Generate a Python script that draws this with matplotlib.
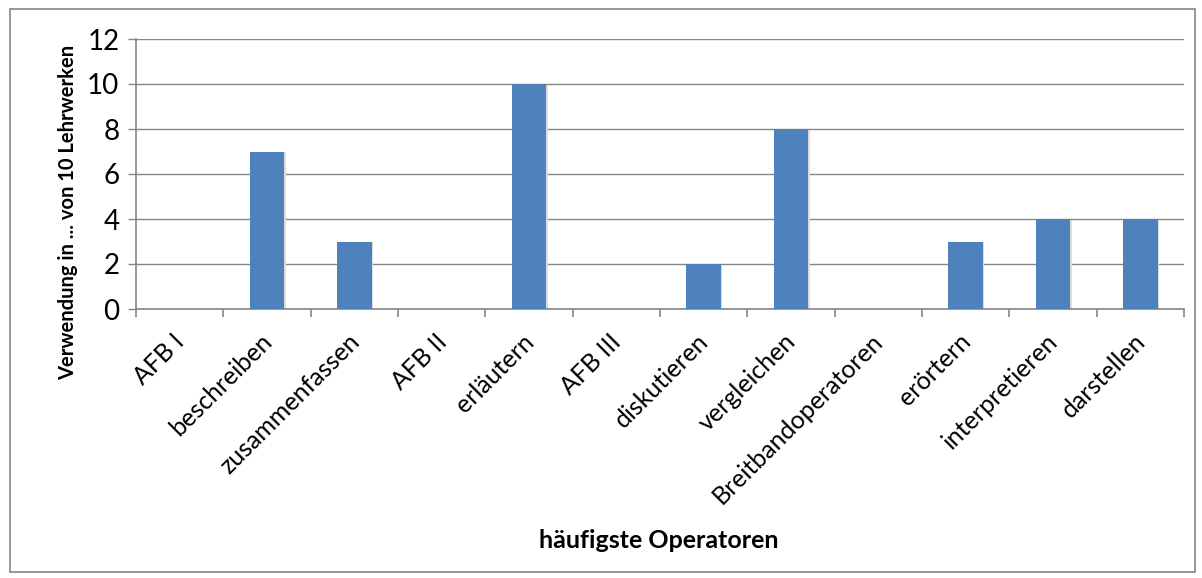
import matplotlib
matplotlib.use("Agg")
import matplotlib.pyplot as plt
from matplotlib.patches import Rectangle
import numpy as np

categories = ["AFB I", "beschreiben", "zusammenfassen", "AFB II", "erläutern",
              "AFB III", "diskutieren", "vergleichen", "Breitbandoperatoren",
              "erörtern", "interpretieren", "darstellen"]
values = [0, 7, 3, 0, 10, 0, 2, 8, 0, 3, 4, 4]
yticks = [0, 2, 4, 6, 8, 10, 12]
ylabel = "Verwendung in ... von 10 Lehrwerken"
xlabel = "häufigste Operatoren"

plt.rcParams['font.family'] = ['Lato', 'DejaVu Sans']

W, H = 1202, 578
fig = plt.figure(figsize=(W / 100, H / 100), dpi=100)
ax = fig.add_axes([136 / W, 1 - 309 / H, (1184 - 136) / W, (309 - 39) / H])

grid_col = "#868686"
bar_col = "#4F81BD"

x = np.arange(len(categories))
# subtle shadow
ax.bar(x + 0.015, values, width=0.40, color="#dcdcdc", zorder=2, linewidth=0,
       bottom=-0.04)
ax.bar(x, values, width=0.40, color=bar_col, zorder=3, linewidth=0)

ax.set_xlim(-0.5, len(categories) - 0.5)
ax.set_ylim(0, 12)
ax.set_yticks(yticks)
ax.set_yticklabels([str(v) for v in yticks], fontsize=20)
ax.yaxis.grid(True, color=grid_col, linewidth=1.0, zorder=0)
ax.set_axisbelow(True)

# category labels at centers, tick marks at boundaries
ax.set_xticks(x)
ax.set_xticklabels(categories, fontsize=18, rotation=45, ha='right',
                   va='top', rotation_mode='anchor')
ax.tick_params(axis='x', which='major', length=0, pad=15)
ax.set_xticks(np.arange(-0.5, len(categories)), minor=True)
ax.tick_params(axis='x', which='minor', length=5.5, color=grid_col, width=1.2)
ax.tick_params(axis='y', length=6, color=grid_col, width=1.0, pad=6)
for lbl in ax.get_xticklabels():
    lbl.set_transform(lbl.get_transform() + matplotlib.transforms.ScaledTranslation(-7 / 100, 0, fig.dpi_scale_trans))

for s in ["top", "right"]:
    ax.spines[s].set_visible(False)
for s in ["left", "bottom"]:
    ax.spines[s].set_color(grid_col)
    ax.spines[s].set_linewidth(1.2)

fig.text(68 / W, 1 - 212 / H, ylabel, rotation=90, ha='center', va='center',
         fontsize=14.5, fontweight='bold')
fig.text(659 / W, 1 - 540 / H, xlabel, ha='center', va='center',
         fontsize=18, fontweight='bold')

fig.patches.append(Rectangle((10 / W, 1 - 572 / H), (1195 - 10) / W, (572 - 9) / H,
                             transform=fig.transFigure, fill=False,
                             edgecolor=grid_col, linewidth=1.2))

fig.savefig("out.png", dpi=100)
